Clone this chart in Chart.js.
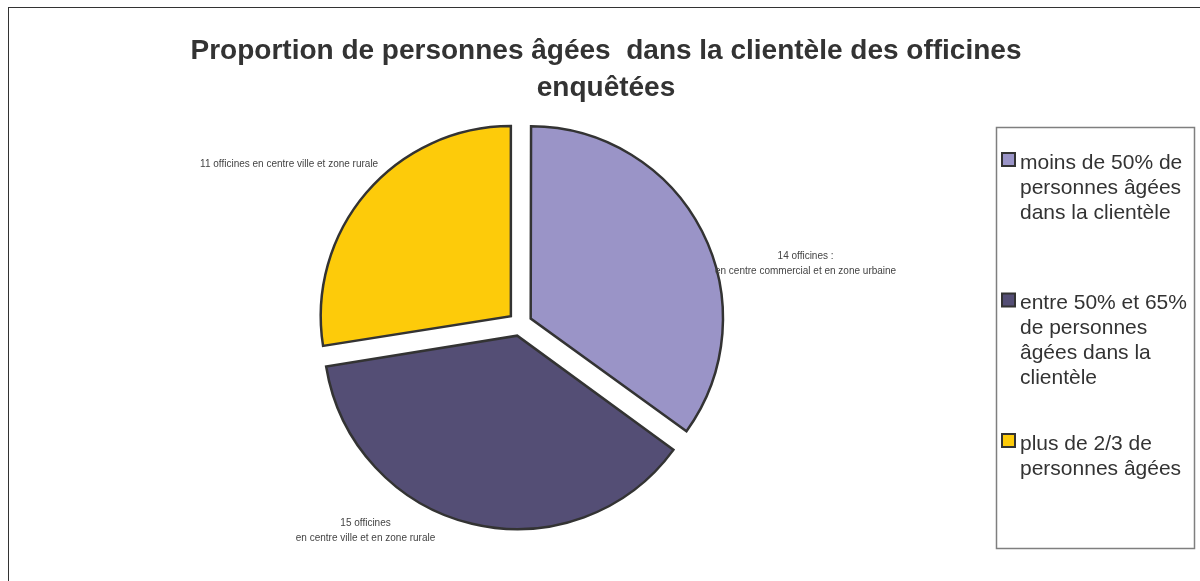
<!DOCTYPE html>
<html lang="fr">
<head>
<meta charset="utf-8">
<title>Proportion de personnes âgées dans la clientèle des officines enquêtées</title>
<script src="https://cdn.jsdelivr.net/npm/chart.js@4/dist/chart.umd.min.js"></script>
<style>
  html, body { margin: 0; padding: 0; background: #ffffff; }
  #wrap { width: 1200px; height: 581px; position: relative; }
  canvas { display: block; }
</style>
</head>
<body>
<div id="wrap"><canvas id="pie" width="1200" height="581"></canvas></div>
<script>
// Categories (legend entries, one line per array item)
const categories = [
  ["moins de 50% de", "personnes âgées", "dans la clientèle"],
  ["entre 50% et 65%", "de personnes", "âgées dans la", "clientèle"],
  ["plus de 2/3 de", "personnes âgées"]
];

// Number of surveyed pharmacies in each category
const officines = [14, 15, 11];

// Notes written beside each slice
const sliceNotes = [
  ["14 officines :", "en centre commercial et en zone urbaine"],
  ["15 officines", "en centre ville et en zone rurale"],
  ["11 officines en centre ville et zone rurale"]
];

const titleLines = [
  "Proportion de personnes âgées  dans la clientèle des officines",
  "enquêtées"
];

const sliceColors = ["#9a94c7", "#544e75", "#fdcb0a"];

// Where each note sits, relative to the pie centre, in pie radii
const notePlacement = [
  { dx: 1.503, dy: -0.316 },
  { dx: -0.813, dy: 1.088 },
  { dx: -1.215, dy: -0.839 }
];

const FONT = "'Liberation Sans', Arial, Helvetica, sans-serif";

// Background and outer frame
const framePlugin = {
  id: "frame",
  beforeDraw(chart) {
    const ctx = chart.ctx;
    ctx.save();
    ctx.fillStyle = "#ffffff";
    ctx.fillRect(0, 0, chart.width, chart.height);
    ctx.strokeStyle = "#333333";
    ctx.lineWidth = 1;
    ctx.strokeRect(8.5, 7.5, chart.width + 20, chart.height + 20);
    ctx.restore();
  }
};

// Two-line bold heading
const headingPlugin = {
  id: "heading",
  afterDraw(chart) {
    const ctx = chart.ctx;
    ctx.save();
    ctx.fillStyle = "#333333";
    ctx.font = "bold 28px " + FONT;
    ctx.textAlign = "center";
    ctx.textBaseline = "middle";
    titleLines.forEach((t, i) => ctx.fillText(t, 606, 51 + i * 37));
    ctx.restore();
  }
};

// Notes beside the slices, anchored on each arc's centre and radius
const notesPlugin = {
  id: "notes",
  afterDatasetsDraw(chart) {
    const ctx = chart.ctx;
    const arcs = chart.getDatasetMeta(0).data;
    ctx.save();
    ctx.fillStyle = "#444444";
    ctx.font = "10px " + FONT;
    ctx.textAlign = "center";
    ctx.textBaseline = "middle";
    arcs.forEach((arc, i) => {
      const p = notePlacement[i];
      const lines = sliceNotes[i];
      const cx = arc.x + p.dx * arc.outerRadius;
      const cy = arc.y + p.dy * arc.outerRadius;
      const lh = 14.5;
      const top = cy - (lines.length - 1) * lh / 2;
      lines.forEach((l, j) => ctx.fillText(l, cx, top + j * lh));
    });
    ctx.restore();
  }
};

// Boxed legend on the right
const boxLegendPlugin = {
  id: "boxLegend",
  afterDraw(chart) {
    const ctx = chart.ctx;
    const ds = chart.data.datasets[0];
    ctx.save();
    ctx.strokeStyle = "#7f7f7f";
    ctx.lineWidth = 1.5;
    ctx.strokeRect(996.5, 127.5, 198, 421);
    ctx.font = "21px " + FONT;
    ctx.textAlign = "left";
    ctx.textBaseline = "middle";
    chart.data.labels.forEach((lines, i) => {
      const y0 = 163 + i * 140.5;
      ctx.fillStyle = ds.backgroundColor[i];
      ctx.fillRect(1002, y0 - 10, 13, 13);
      ctx.strokeStyle = "#333333";
      ctx.lineWidth = 2;
      ctx.strokeRect(1002, y0 - 10, 13, 13);
      ctx.fillStyle = "#333333";
      lines.forEach((l, j) => ctx.fillText(l, 1020, y0 + j * 25));
    });
    ctx.restore();
  }
};

new Chart(document.getElementById("pie"), {
  type: "pie",
  data: {
    labels: categories,
    datasets: [{
      data: officines,
      backgroundColor: sliceColors,
      borderColor: "#333333",
      borderWidth: 2.5,
      borderJoinStyle: "miter",
      offset: 48,
      radius: 190
    }]
  },
  options: {
    responsive: false,
    animation: false,
    events: [],
    layout: { padding: { left: 0, right: 160, top: 100, bottom: 33 } },
    plugins: {
      legend: { display: false },
      title: { display: false },
      tooltip: { enabled: false }
    }
  },
  plugins: [framePlugin, headingPlugin, notesPlugin, boxLegendPlugin]
});
</script>
</body>
</html>
